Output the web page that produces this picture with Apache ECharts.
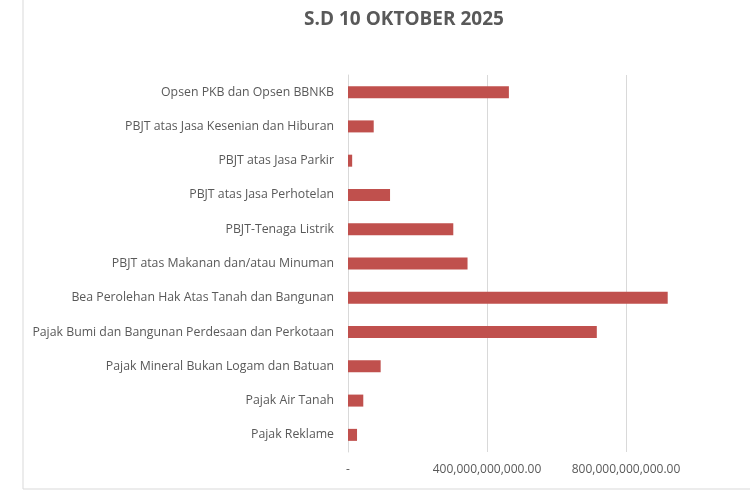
<!DOCTYPE html>
<html>
<head>
<meta charset="utf-8">
<script src="https://cdn.jsdelivr.net/npm/echarts@6/dist/echarts.min.js"></script>
<style>
html,body{margin:0;padding:0;background:#fff;}
#c{width:750px;height:500px;}
</style>
</head>
<body>
<div id="c"></div>
<script>
const titleText = "S.D 10 OKTOBER 2025";
const categories = [
  "Opsen PKB dan Opsen BBNKB",
  "PBJT atas Jasa Kesenian dan Hiburan",
  "PBJT atas Jasa Parkir",
  "PBJT atas Jasa Perhotelan",
  "PBJT-Tenaga Listrik",
  "PBJT atas Makanan dan/atau Minuman",
  "Bea Perolehan Hak Atas Tanah dan Bangunan",
  "Pajak Bumi dan Bangunan Perdesaan dan Perkotaan",
  "Pajak Mineral Bukan Logam dan Batuan",
  "Pajak Air Tanah",
  "Pajak Reklame"
];
const values = [
  463000000000,
  74000000000,
  12000000000,
  121000000000,
  303000000000,
  344000000000,
  920000000000,
  716000000000,
  94000000000,
  44000000000,
  26000000000
];
const axisMin = 0;
const axisMax = 1200000000000;
const axisInterval = 400000000000;

const chart = echarts.init(document.getElementById('c'));
const fmt = v => v === 0 ? '-' : v.toLocaleString('en-US', {minimumFractionDigits: 2, maximumFractionDigits: 2});
chart.setOption({
  animation: false,
  backgroundColor: '#fff',
  graphic: [{
    type: 'rect',
    shape: {x: 23, y: -10, width: 800, height: 499},
    style: {fill: 'none', stroke: '#d9d9d9', lineWidth: 1},
    z: -1
  }],
  title: {
    text: titleText,
    left: 399,
    textAlign: 'center',
    top: 5,
    textStyle: {fontFamily: 'Open Sans', fontWeight: 'bold', fontSize: 19, color: '#595959'}
  },
  grid: {left: 348, top: 75, right: -15, bottom: 48, containLabel: false, outerBoundsMode: 'none'},
  xAxis: {
    type: 'value',
    min: axisMin, max: axisMax, interval: axisInterval,
    axisLine: {show: false},
    axisTick: {show: false},
    splitLine: {show: true, lineStyle: {color: '#d9d9d9', width: 1}},
    axisLabel: {formatter: fmt, showMaxLabel: false, color: '#595959', fontFamily: 'Open Sans', fontSize: 12, margin: 12}
  },
  yAxis: {
    type: 'category',
    data: categories,
    inverse: true,
    axisLine: {show: true, lineStyle: {color: '#d9d9d9'}},
    axisTick: {show: false},
    axisLabel: {color: '#595959', fontFamily: 'Open Sans', fontSize: 12.3, margin: 14}
  },
  series: [{
    type: 'bar',
    data: values,
    barWidth: 12,
    itemStyle: {color: '#c0504d'}
  }]
});
</script>
</body>
</html>
